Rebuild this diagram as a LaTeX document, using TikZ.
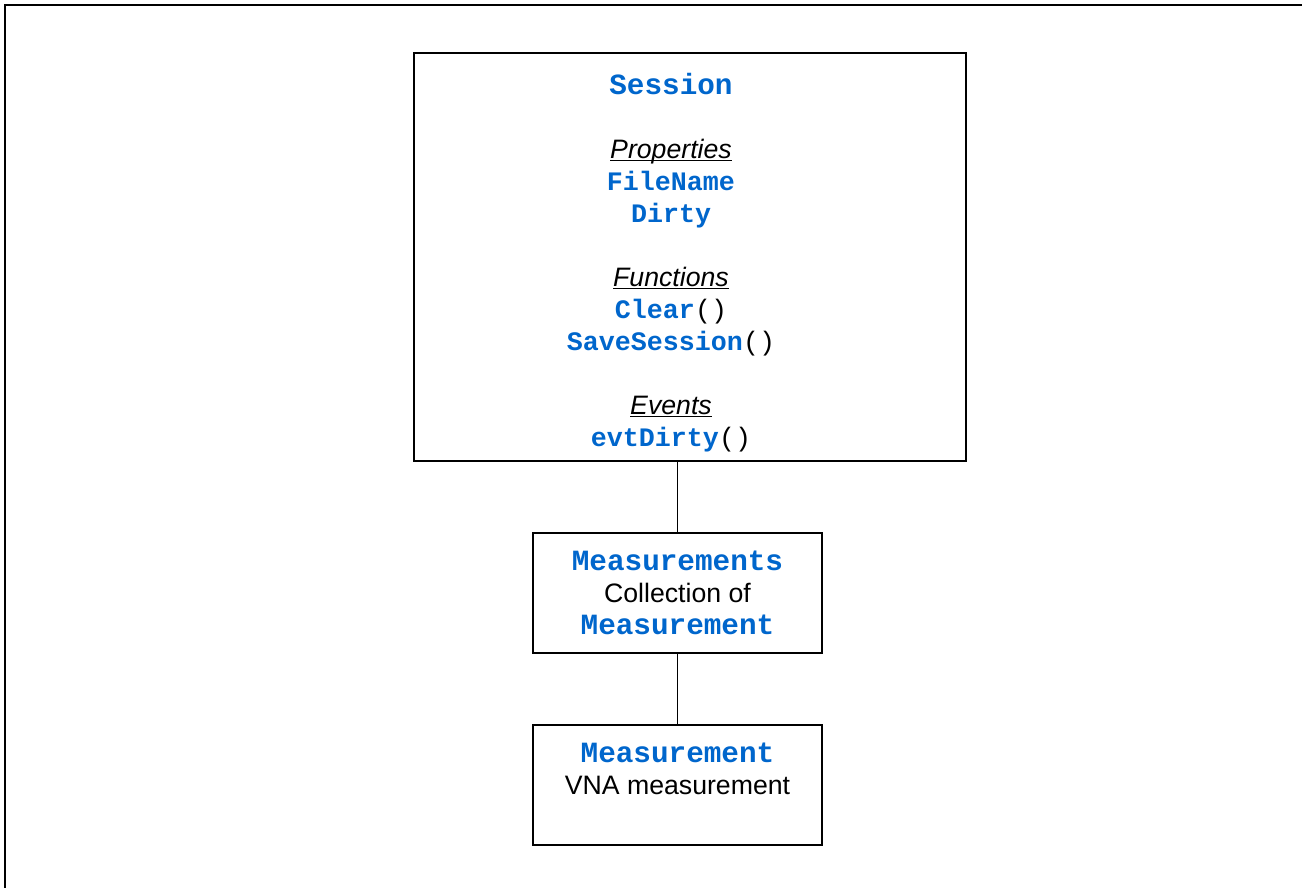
\documentclass[tikz,border=0pt]{standalone}
\usepackage{fontspec}
\setmainfont{Liberation Sans}
\setmonofont{Liberation Mono}
\usepackage{xcolor}
\usepackage{tikz}
\usetikzlibrary{positioning}

\definecolor{codeblue}{RGB}{0,102,204}
\newcommand{\mbr}[1]{{\ttfamily\bfseries\color{codeblue}#1}}
\newcommand{\bigmbr}[1]{{\fontsize{22}{24}\selectfont\ttfamily\bfseries\color{codeblue}#1}}
\newcommand{\prn}{{\ttfamily()}}
\newcommand{\hdr}[1]{\setbox0\hbox{\itshape #1}\rlap{\rule[-2pt]{\wd0}{1.1pt}}\box0}

\begin{document}
\begin{tikzpicture}[x=0.75pt,y=0.75pt,yscale=-1,xscale=1]
\tikzset{
  box/.style={draw, line width=1.1pt, inner sep=0pt, align=center,
    font=\fontsize{20}{24}\selectfont},
  link/.style={draw, line width=1.1pt}
}
\useasboundingbox (0,0) rectangle (1302,888);

% outer frame
\coordinate (frameBL) at (5,888);
\coordinate (frameTL) at (5,5);
\coordinate (frameTR) at (1302,5);
\draw[line width=1.5pt] (frameBL) -- (frameTL) -- (frameTR);

% Session
\node[box, minimum width=414pt, minimum height=306pt] (session) at (690,257) {};
\node[anchor=north, inner sep=0pt, align=center, font=\fontsize{20}{24}\selectfont] (sessionlist) at (671,73)
  {\bigmbr{Session}\\[24pt]
   \hdr{Properties}\\
   \mbr{FileName}\\
   \mbr{Dirty}\\[24pt]
   \hdr{Functions}\\
   \mbr{Clear}\prn\\
   \mbr{SaveSession}\prn\\[24pt]
   \hdr{Events}\\
   \mbr{evtDirty}\prn};

% collection
\node[box, minimum width=216.75pt, minimum height=90pt] (measurements) at (677.5,593)
  {\bigmbr{Measurements}\\
   Collection of\\
   \bigmbr{Measurement}};

% item
\node[box, minimum width=216.75pt, minimum height=90pt] (measurement) at (677.5,785)
  {\bigmbr{Measurement}\\
   VNA measurement\\
   \mbox{}};

\draw[link] (session.south -| measurements.north) -- (measurements.north);
\draw[link] (measurements.south) -- (measurement.north);

\end{tikzpicture}
\end{document}
